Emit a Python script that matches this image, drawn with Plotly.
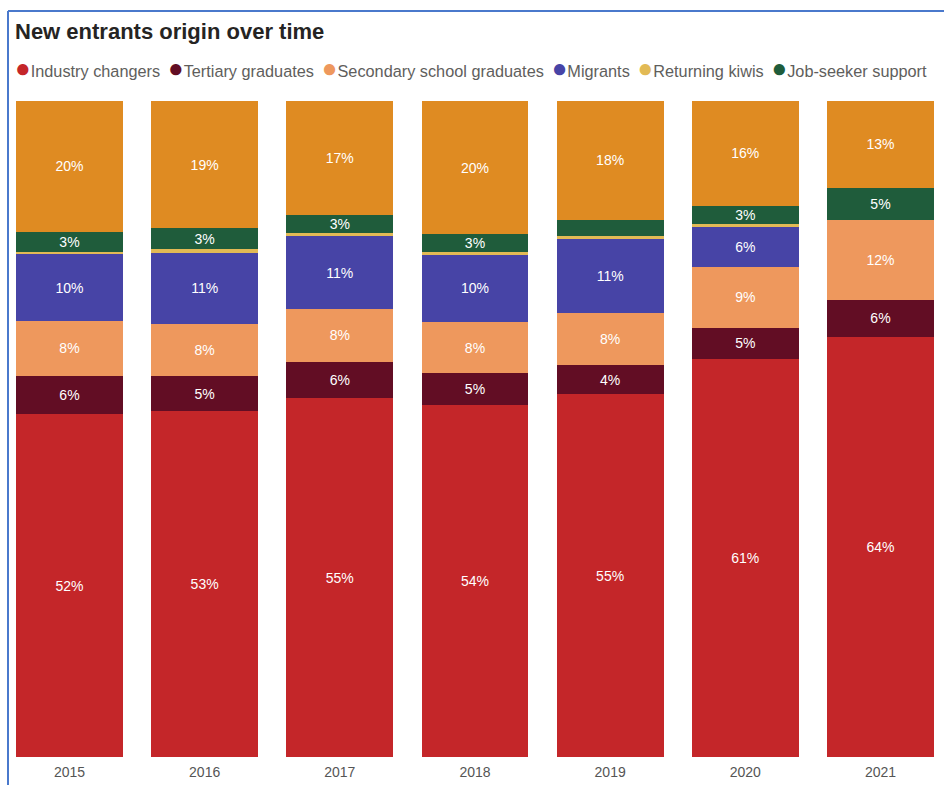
import plotly.graph_objects as go

# ---------------- data ----------------
years = ["2015", "2016", "2017", "2018", "2019", "2020", "2021"]
industry_changers = [52.2, 52.7, 54.6, 53.7, 55.3, 60.6, 64.0]
tertiary_graduates = [5.9, 5.3, 5.6, 4.8, 4.4, 4.7, 5.7]
secondary_graduates = [8.3, 8.0, 8.0, 7.9, 7.9, 9.3, 12.2]
migrants = [10.2, 10.8, 11.1, 10.2, 11.4, 6.0, 0.0]
returning_kiwis = [0.4, 0.5, 0.5, 0.46, 0.46, 0.5, 0.0]
job_seeker_support = [3.05, 3.2, 2.7, 2.7, 2.4, 2.8, 4.9]
other = [19.9, 19.4, 17.4, 20.3, 18.1, 15.9, 13.2]

series_names = ["Industry changers", "Tertiary graduates", "Secondary school graduates",
                "Migrants", "Returning kiwis", "Job-seeker support", "Other"]
series_values = [industry_changers, tertiary_graduates, secondary_graduates,
                 migrants, returning_kiwis, job_seeker_support, other]
series_colors = ["#C42629", "#620D24", "#EE985D", "#4744A6", "#E2BA55", "#1F5C3B", "#DF8B22"]
legend_names = series_names[:6]  # the rest of the legend is cut off in the original

# ---------------- layout constants ----------------
W, H = 944, 785
M_T, M_B, M_L, M_R = 101, 28, 0, 0
PLOT_H = H - M_T - M_B


def py_to_paper(py):
    return (H - M_B - py) / PLOT_H


def px_to_paper(px):
    return (px - M_L) / (W - M_L - M_R)


FONT = "Arial, 'Liberation Sans', sans-serif"

fig = go.Figure()
for name, vals, col in zip(series_names, series_values, series_colors):
    fig.add_trace(go.Bar(
        x=years, y=vals, name=name,
        marker=dict(color=col, line=dict(width=0)),
        text=[f"{v:.0f}%" if v >= 2.5 else "" for v in vals],
        textposition="inside", insidetextanchor="middle", textangle=0,
        insidetextfont=dict(family=FONT, size=14, color="#FFFFFF"),
        constraintext="none",
        showlegend=False,
        hoverinfo="x+y+name",
    ))

# legend built as a single line of text (flows like the original)
legend_html = "".join(
    f"<span style='color:{c}; font-size:26px'>●</span>{n}\u00a0\u2009"
    for n, c in zip(legend_names, series_colors[:6])
)

annotations = [
    dict(text=legend_html, xref="paper", yref="paper",
         x=px_to_paper(13), y=py_to_paper(68), xanchor="left", yanchor="middle",
         showarrow=False, align="left",
         font=dict(family=FONT, size=16.3, color="#605E5C")),
    dict(text="<b>New entrants origin over time</b>", xref="paper", yref="paper",
         x=px_to_paper(13), y=py_to_paper(31), xanchor="left", yanchor="middle",
         showarrow=False, font=dict(family=FONT, size=22, color="#252423")),
]

shapes = [
    dict(type="line", xref="paper", yref="paper",
         x0=px_to_paper(8), x1=px_to_paper(8), y0=py_to_paper(11), y1=py_to_paper(800),
         line=dict(color="#4A79CC", width=2)),
    dict(type="line", xref="paper", yref="paper",
         x0=px_to_paper(8), x1=px_to_paper(960), y0=py_to_paper(11), y1=py_to_paper(11),
         line=dict(color="#4A79CC", width=2)),
]

fig.update_layout(
    width=W, height=H,
    margin=dict(l=M_L, r=M_R, t=M_T, b=M_B, pad=0),
    barmode="stack", barnorm="percent", bargap=0.21,
    paper_bgcolor="white", plot_bgcolor="white",
    showlegend=False,
    annotations=annotations, shapes=shapes,
    xaxis=dict(type="category", range=[-0.514, 6.47], showgrid=False, zeroline=False,
               showline=False, ticks="outside", ticklen=2, tickcolor="rgba(0,0,0,0)",
               tickfont=dict(family=FONT, size=14, color="#555555")),
    yaxis=dict(range=[0, 100], visible=False, showgrid=False, zeroline=False),
)

fig.write_html("out.html")
